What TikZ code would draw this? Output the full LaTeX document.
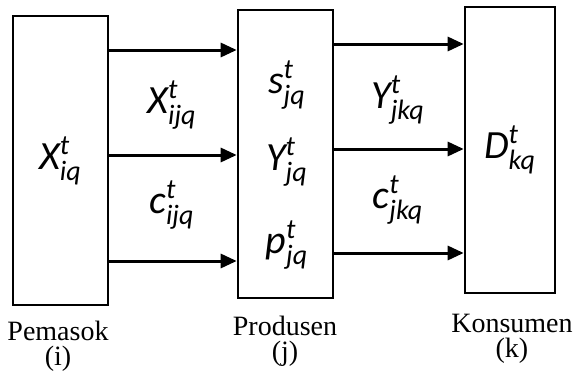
\documentclass[tikz,border=0pt]{standalone}
\usepackage{amsmath}
\usepackage{fontspec}
\setmainfont{Carlito}
\newfontfamily\labelfont{Liberation Serif}
\usetikzlibrary{arrows.meta, positioning, calc}

\newcommand{\tvar}[3]{$\text{\itshape #1}^{\text{\itshape #2}}_{\text{\itshape #3}}$}

\begin{document}
\begin{tikzpicture}[
    x=0.5pt, y=-0.5pt,
    party/.style={
        rectangle, draw=black, line width=1.3pt, fill=white,
        minimum width=47.5pt, minimum height=144.5pt,
        inner sep=0pt, font=\fontsize{20}{22}\selectfont
    },
    var/.style={font=\fontsize{20}{22}\selectfont, inner sep=1pt},
    flow/.style={
        -{Triangle[length=8pt, width=7pt]},
        line width=1.5pt, color=black
    },
    lbl/.style={font=\fontsize{14}{12.5}\selectfont\labelfont, align=center, inner sep=0pt}
]
\useasboundingbox (0,0) rectangle (575,376);

%% ── Boxes ────────────────────────────────────────────────────────────────────
\node[party] (pemasok)  at (60.5, 160.5) {\tvar{X}{t}{iq}};
\node[party, minimum height=144pt] (produsen) at (285.5, 154) {};
\node[party, minimum width=45pt, minimum height=143pt] (konsumen) at (510, 150) {\tvar{D}{t}{kq}};

%% Values held by the producer
\node[var] (s)  at (287, 85)  {\tvar{s}{t}{jq}};
\node[var] (y)  at (287, 162) {\tvar{Y}{t}{jq}};
\node[var] (p)  at (287, 245) {\tvar{p}{t}{jq}};

%% ── Arrow rows ───────────────────────────────────────────────────────────────
\coordinate (a1) at (0, 50);
\coordinate (a2) at (0, 155);
\coordinate (a3) at (0, 261);
\coordinate (b1) at (0, 44);
\coordinate (b2) at (0, 149);
\coordinate (b3) at (0, 253);

\draw[flow] (pemasok.east |- a1) -- (produsen.west |- a1);
\draw[flow] (pemasok.east |- a2) -- (produsen.west |- a2);
\draw[flow] (pemasok.east |- a3) -- (produsen.west |- a3);

\draw[flow] (produsen.east |- b1) -- (konsumen.west |- b1);
\draw[flow] (produsen.east |- b2) -- (konsumen.west |- b2);
\draw[flow] (produsen.east |- b3) -- (konsumen.west |- b3);

%% Flow labels
\node[var] (xijq) at (172, 105) {\tvar{X}{t}{ijq}};
\node[var] (cijq) at (172, 205) {\tvar{c}{t}{ijq}};
\node[var] (yjkq) at (398, 100) {\tvar{Y}{t}{jkq}};
\node[var] (cjkq) at (398, 200) {\tvar{c}{t}{jkq}};

%% ── Names ────────────────────────────────────────────────────────────────────
\node[lbl] (pemasoklbl)  at (58, 346)  {Pemasok\\(i)};
\node[lbl] (produsenlbl) at (285, 341) {Produsen\\(j)};
\node[lbl] (konsumenlbl) at (512, 339) {Konsumen\\(k)};

\end{tikzpicture}
\end{document}
